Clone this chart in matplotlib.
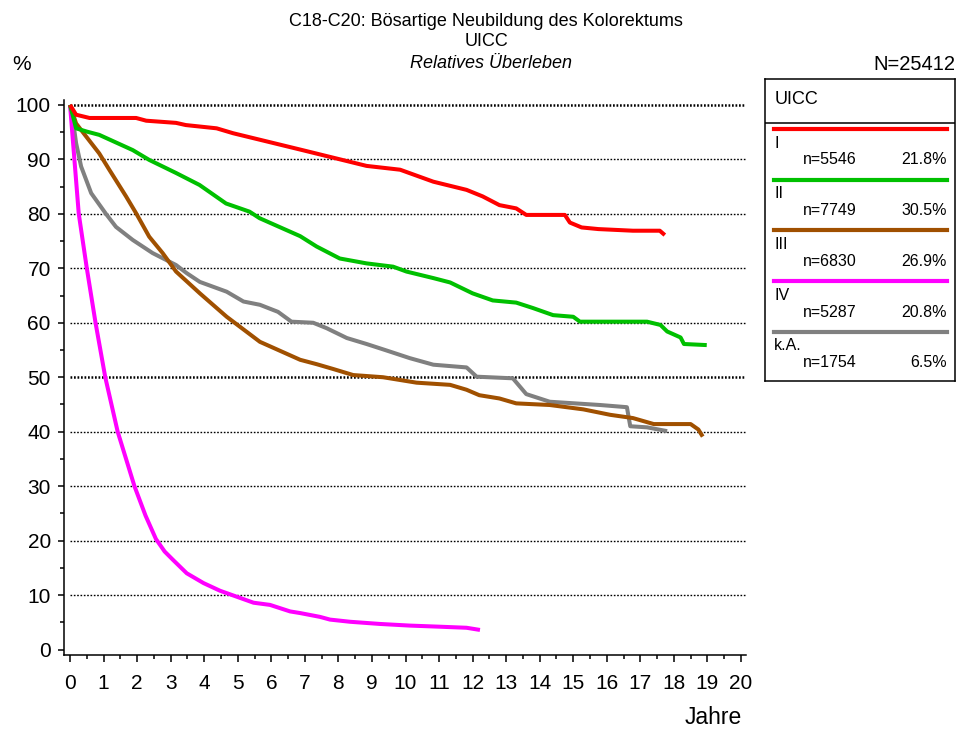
import numpy as np
import matplotlib.pyplot as plt

plt.rcParams['font.family'] = ['Liberation Sans', 'DejaVu Sans']

# --- DATEN ---
jahre_I = [0, 0.18, 0.58, 1.97, 2.27, 3.16, 3.45, 4.37, 4.86, 5.66, 6.86, 7.85, 8.84,
           9.84, 10.83, 11.82, 12.3, 12.8, 13.3, 13.6, 14.75, 14.9, 15.25, 15.75,
           16.78, 17.58, 17.73]
surv_I = [100, 98.2, 97.6, 97.6, 97.1, 96.7, 96.3, 95.7, 94.8, 93.6, 91.8, 90.3, 88.8,
          88.1, 85.9, 84.4, 83.2, 81.6, 81.0, 79.8, 79.8, 78.4, 77.5, 77.2,
          76.9, 76.9, 76.1]

jahre_II = [0, 0.18, 0.5, 0.87, 1.87, 2.36, 3.16, 3.86, 4.65, 5.35, 5.65, 6.86, 7.35,
            8.04, 8.84, 9.63, 10.03, 10.83, 11.33, 12.0, 12.6, 13.3, 13.8, 14.4, 15.0,
            15.2, 17.2, 17.6, 17.8, 18.2, 18.3, 18.98]
surv_II = [100, 95.7, 95.1, 94.5, 91.7, 89.9, 87.5, 85.3, 81.9, 80.4, 79.2, 75.9, 74.0,
           71.8, 70.9, 70.3, 69.4, 68.2, 67.4, 65.4, 64.1, 63.7, 62.7, 61.4, 61.1,
           60.2, 60.2, 59.6, 58.4, 57.3, 56.1, 55.9]

jahre_III = [0, 0.18, 0.48, 0.87, 1.17, 1.67, 1.97, 2.36, 2.76, 3.16, 3.87, 4.67, 5.66,
             6.86, 7.35, 7.85, 8.44, 9.33, 10.33, 11.33, 11.82, 12.2, 12.8, 13.3, 14.3,
             15.3, 16.1, 16.78, 17.4, 18.5, 18.73, 18.86]
surv_III = [100, 96.6, 94.2, 91.1, 88.1, 83.2, 80.1, 75.8, 72.8, 69.4, 65.4, 61.1, 56.5,
            53.2, 52.4, 51.5, 50.4, 50.0, 49.0, 48.6, 47.7, 46.7, 46.1, 45.2, 44.9,
            44.1, 43.1, 42.5, 41.4, 41.4, 40.4, 39.1]

jahre_IV = [0, 0.13, 0.26, 0.5, 0.76, 1.05, 1.42, 1.92, 2.25, 2.56, 2.82, 3.08, 3.48,
            3.98, 4.47, 4.97, 5.47, 5.96, 6.56, 6.86, 7.45, 7.75, 8.35, 9.24, 10.13,
            11.0, 11.82, 12.22]
surv_IV = [100, 90, 80, 70, 60, 50, 40, 30, 24.6, 20.3, 18.0, 16.4, 14.0,
           12.2, 10.8, 9.7, 8.6, 8.2, 7.0, 6.7, 6.0, 5.5, 5.1, 4.7, 4.4,
           4.2, 4.0, 3.6]

jahre_ka = [0, 0.1, 0.18, 0.33, 0.63, 1.07, 1.37, 1.87, 2.46, 3.16, 3.48, 3.87, 4.67,
            5.17, 5.66, 6.2, 6.6, 7.25, 7.65, 8.25, 8.84, 9.44, 10.13, 10.83, 11.82,
            12.12, 13.2, 13.6, 14.3, 15.8, 16.6, 16.7, 17.2, 17.8]
surv_ka = [100, 96.6, 93.0, 88.7, 83.8, 80.0, 77.6, 75.2, 72.8, 70.6, 69.1, 67.5, 65.7,
           63.9, 63.3, 62.0, 60.2, 60.0, 59.0, 57.2, 56.1, 54.9, 53.5, 52.3, 51.8,
           50.1, 49.8, 46.9, 45.5, 44.9, 44.5, 41.0, 40.8, 40.1]

gruppen = ['I', 'II', 'III', 'IV', 'k.A.']
anzahl = [5546, 7749, 6830, 5287, 1754]
anteil = [21.8, 30.5, 26.9, 20.8, 6.5]
farben = ['#ff0000', '#00c000', '#a05000', '#ff00ff', '#808080']
kurven = [(jahre_I, surv_I), (jahre_II, surv_II), (jahre_III, surv_III),
          (jahre_IV, surv_IV), (jahre_ka, surv_ka)]

W, H = 957, 730
fig = plt.figure(figsize=(W / 100, H / 100), dpi=100)

# --- HAUPTACHSE ---
ax = fig.add_axes([64 / W, 1 - 655 / H, (746 - 64) / W, (655 - 100) / H])
ax.set_xlim(-0.18, 20.15)
ax.set_ylim(-1.0, 100.9)

for v in range(10, 101, 10):
    if v in (50, 100):
        ax.hlines(v, 0, 20.15, colors='black', lw=1.8, linestyles=(0, (0.7, 0.7)))
    else:
        ax.hlines(v, 0, 20.15, colors='black', lw=1.0, linestyles=(0, (1.2, 1.2)))

# Zeichenreihenfolge wie im Original
for i in [4, 3, 2, 1, 0]:
    ax.plot(kurven[i][0], kurven[i][1], color=farben[i], lw=2.9,
            solid_joinstyle='round', solid_capstyle='butt')

for s in ['top', 'right']:
    ax.spines[s].set_visible(False)
for s in ['left', 'bottom']:
    ax.spines[s].set_linewidth(1.1)

ax.set_xticks(range(0, 21))
ax.set_xticks(np.arange(0.5, 20, 1), minor=True)
ax.set_yticks(range(0, 101, 10))
ax.set_yticks(range(5, 100, 10), minor=True)
ax.tick_params(axis='x', which='major', length=5, width=1.1, labelsize=15, pad=9)
ax.tick_params(axis='x', which='minor', length=3, width=1.1)
ax.tick_params(axis='y', which='major', length=4.5, width=1.1, labelsize=15, pad=5)
ax.tick_params(axis='y', which='minor', length=3, width=1.1)

# --- TEXTE ---
fig.text(486 / W, 1 - 22 / H, 'C18-C20: Bösartige Neubildung des Kolorektums',
         ha='center', va='center', fontsize=13)
fig.text(486 / W, 1 - 42 / H, 'UICC', ha='center', va='center', fontsize=13)
fig.text(491 / W, 1 - 63 / H, 'Relatives Überleben', ha='center', va='center',
         fontsize=13, style='italic')
fig.text(22 / W, 1 - 65 / H, '%', ha='center', va='center', fontsize=15)
fig.text(955 / W, 1 - 64 / H, 'N=25412', ha='right', va='center', fontsize=14.5)
fig.text(742 / W, 1 - 718 / H, 'Jahre', ha='right', va='center', fontsize=16.5)

# --- LEGENDE ---
lg = fig.add_axes([765 / W, 1 - 381 / H, 190 / W, 302 / H])
lg.set_xlim(0, 190)
lg.set_ylim(302, 0)
lg.set_xticks([])
lg.set_yticks([])
for s in lg.spines.values():
    s.set_linewidth(1.1)
lg.text(10, 21, 'UICC', ha='left', va='center', fontsize=13)
lg.axhline(44, color='black', lw=1.1)
for i, g in enumerate(gruppen):
    y0 = 50 + i * 50.7
    lg.plot([9, 182], [y0, y0], color=farben[i], lw=3)
    lg.text(9, y0 + 14, g, ha='left', va='center', fontsize=11.5)
    lg.text(38, y0 + 31, f'n={anzahl[i]}', ha='left', va='center', fontsize=11.5)
    lg.text(182, y0 + 31, f'{anteil[i]:.1f}%', ha='right', va='center', fontsize=11.5)

fig.savefig('out.png', dpi=100)
